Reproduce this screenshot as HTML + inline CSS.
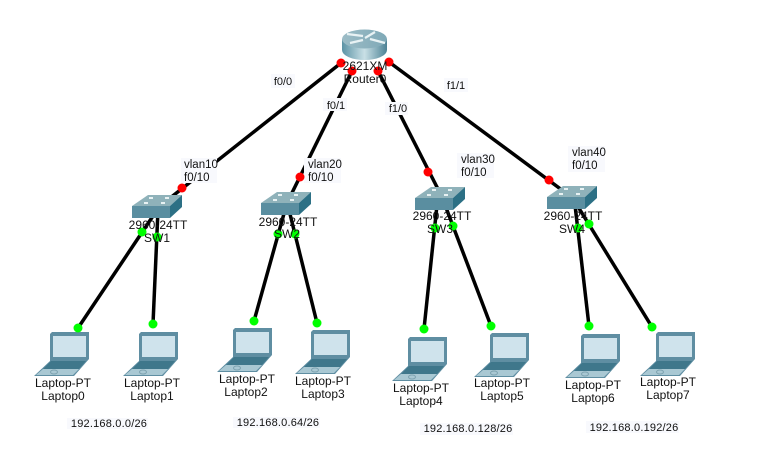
<!DOCTYPE html>
<html><head><meta charset="utf-8"><style>
html,body{margin:0;padding:0;background:#fff}
svg{display:block}
text{font-family:"Liberation Sans",sans-serif;font-size:12px;fill:#111;text-anchor:middle}
.s{text-anchor:start;font-size:11.500px}
.t{font-size:11px}
.i{font-size:11px;letter-spacing:.2px}
.l{stroke:#000;stroke-width:3.500;fill:none}
</style></head><body>
<svg width="764" height="470" viewBox="0 0 764 470" xmlns="http://www.w3.org/2000/svg">
<defs>
<linearGradient id="rg" x1="0" x2="1" y1="0" y2="0"><stop offset="0" stop-color="#5c93a5"/><stop offset=".5" stop-color="#c9e0e6"/><stop offset="1" stop-color="#4d8295"/></linearGradient>
<linearGradient id="rv" x1="0" x2="1" y1="0" y2="0"><stop offset="0" stop-color="#9cbcc6"/><stop offset="1" stop-color="#7fa9b7"/></linearGradient>
<g id="lap">
<path d="M0 2 2 0H39V27L24 44H-16L0 29Z" fill="#5f8ea2"/>
<rect x="3" y="4" width="33" height="21" fill="#cfe3ec"/>
<path d="M1 29H36L29 37H-7Z" fill="#3f778b"/>
<path d="M-7 37H29L23 43H-14Z" fill="#a9c8d3"/>
<ellipse cx="4" cy="40" rx="3.500" ry="2" fill="none" stroke="#7ea3b0"/>
</g>
<g id="sw">
<path d="M16 0H50L38 11H0Z" fill="#8fb2ba"/>
<path d="M0 11H38V23H0Z" fill="#5a8ea0"/>
<path d="M38 11 50 0V12L38 23Z" fill="#2c7085"/>
<path d="M17 3H21M33 3H37M12 8H16M29 8H33" stroke="#e8f2f3" stroke-width="2"/>
</g>
</defs>

<g class="l">
<path d="M341 63 160 206"/><path d="M352 71 287 203"/><path d="M378 71 441 195"/><path d="M389 62 570 196"/>
<path d="M157 210 78 328"/><path d="M158 210 153 324"/>
<path d="M285 210 254 321"/><path d="M289 210 317 323"/>
<path d="M437 205 424 329"/><path d="M445 205 491 326"/>
<path d="M575 205 589 326"/><path d="M577 205 652 327"/>
</g>

<path d="M342 39V50A22.500 10 0 0 0 387 50V39Z" fill="url(#rg)"/>
<ellipse cx="364.500" cy="39" rx="22.500" ry="9.500" fill="url(#rv)"/>
<path d="M347 34 363 36M350 43 363 40M365 38 375 32M370 39 385 43" stroke="#e8f2f4" stroke-width="2.200" fill="none"/>

<use href="#sw" x="132" y="195"/>
<use href="#sw" x="261" y="192"/>
<use href="#sw" x="415" y="187"/>
<use href="#sw" x="547" y="186"/>

<use href="#lap" x="50" y="332"/>
<use href="#lap" x="139" y="332"/>
<use href="#lap" x="233" y="328"/>
<use href="#lap" x="311" y="330"/>
<use href="#lap" x="408" y="337"/>
<use href="#lap" x="490" y="333"/>
<use href="#lap" x="581" y="334"/>
<use href="#lap" x="656" y="332"/>

<g fill="#f8f9fd">
<rect x="271" y="74" width="24" height="14"/><rect x="323" y="98" width="24" height="13"/><rect x="385" y="102" width="23" height="13"/><rect x="444" y="78" width="24" height="14"/>
<rect x="181" y="158" width="36" height="25"/><rect x="304" y="158" width="37" height="25"/><rect x="457" y="153" width="37" height="25"/><rect x="568" y="146" width="37" height="26"/>
<rect x="67" y="418" width="81" height="11"/><rect x="233" y="417" width="87" height="11"/><rect x="420" y="423" width="93" height="12"/><rect x="586" y="421" width="93" height="12"/>
</g>

<g fill="#f00">
<circle cx="341" cy="63" r="4.500"/><circle cx="352" cy="71" r="4.500"/><circle cx="378" cy="71" r="4.500"/><circle cx="389" cy="62" r="4.500"/>
<circle cx="182" cy="188" r="4.500"/><circle cx="300" cy="177" r="4.500"/><circle cx="428" cy="172" r="4.500"/><circle cx="549" cy="180" r="4.500"/>
</g>
<g fill="#0f0">
<circle cx="142" cy="232" r="4.500"/><circle cx="157" cy="237" r="4.500"/><circle cx="278" cy="234" r="4.500"/><circle cx="295" cy="234" r="4.500"/>
<circle cx="435" cy="228" r="4.500"/><circle cx="453" cy="226" r="4.500"/><circle cx="578" cy="228" r="4.500"/><circle cx="589" cy="224" r="4.500"/>
<circle cx="78" cy="328" r="4.500"/><circle cx="153" cy="324" r="4.500"/><circle cx="254" cy="321" r="4.500"/><circle cx="317" cy="323" r="4.500"/>
<circle cx="424" cy="329" r="4.500"/><circle cx="491" cy="326" r="4.500"/><circle cx="589" cy="326" r="4.500"/><circle cx="652" cy="327" r="4.500"/>
</g>

<text x="365" y="70">2621XM</text><text x="365" y="83">Router0</text>
<text class="t" x="283" y="85">f0/0</text><text class="t" x="336" y="109">f0/1</text><text class="t" x="398" y="112">f1/0</text><text class="t" x="456" y="89">f1/1</text>

<text class="s" x="184" y="168">vlan10</text><text class="s" x="184" y="181">f0/10</text>
<text class="s" x="308" y="168">vlan20</text><text class="s" x="308" y="181">f0/10</text>
<text class="s" x="461" y="163">vlan30</text><text class="s" x="461" y="176">f0/10</text>
<text class="s" x="572" y="156">vlan40</text><text class="s" x="572" y="169">f0/10</text>

<text x="158" y="229">2960-24TT</text><text x="157" y="242">SW1</text>
<text x="288" y="226">2960-24TT</text><text x="287" y="238">SW2</text>
<text x="442" y="220">2960-24TT</text><text x="440" y="233">SW3</text>
<text x="573" y="220">2960-24TT</text><text x="572" y="233">SW4</text>

<text x="63" y="387">Laptop-PT</text><text x="63" y="400">Laptop0</text>
<text x="152" y="387">Laptop-PT</text><text x="152" y="400">Laptop1</text>
<text x="247" y="383">Laptop-PT</text><text x="246" y="396">Laptop2</text>
<text x="323" y="385">Laptop-PT</text><text x="323" y="398">Laptop3</text>
<text x="421" y="392">Laptop-PT</text><text x="421" y="405">Laptop4</text>
<text x="502" y="387">Laptop-PT</text><text x="502" y="400">Laptop5</text>
<text x="593" y="389">Laptop-PT</text><text x="593" y="402">Laptop6</text>
<text x="668" y="386">Laptop-PT</text><text x="668" y="399">Laptop7</text>

<text class="i" x="109" y="427">192.168.0.0/26</text>
<text class="i" x="278" y="426">192.168.0.64/26</text>
<text class="i" x="468" y="432">192.168.0.128/26</text>
<text class="i" x="634" y="431">192.168.0.192/26</text>
</svg>
</body></html>
